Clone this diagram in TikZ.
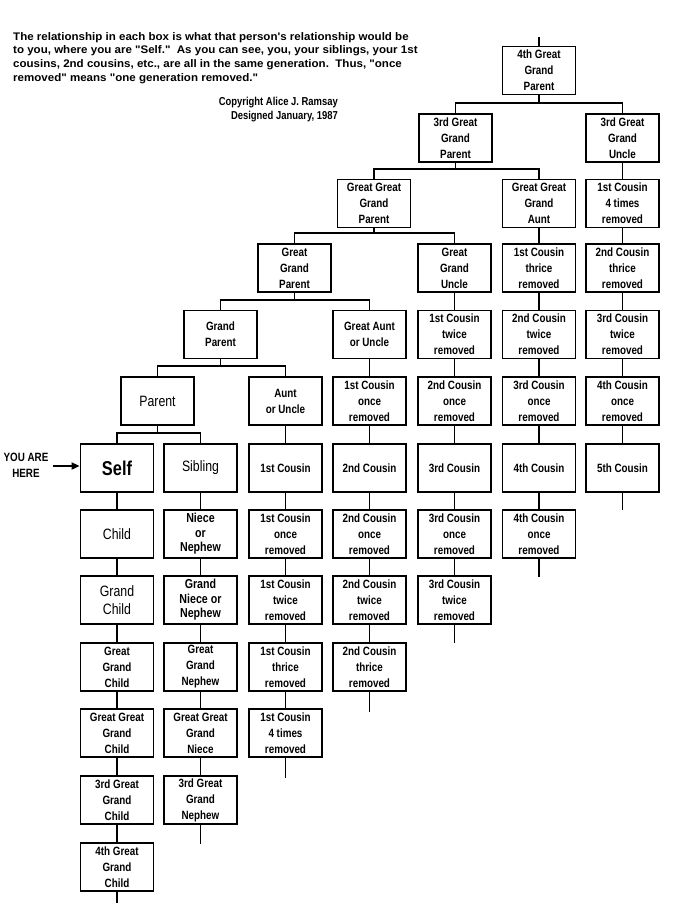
\documentclass[tikz,border=0pt]{standalone}
\usepackage{fontspec}
\setmainfont{Liberation Sans}
\newfontfamily\cond[FakeStretch=0.82]{Liberation Sans}
\newfontfamily\widef[FakeStretch=1.05]{Liberation Sans}
\usetikzlibrary{arrows.meta}
\newcommand\bxF{\cond\bfseries\fontsize{12}{16}\selectfont}
\newcommand\bigF{\cond\fontsize{15}{18}\selectfont}
\newcommand\midF{\cond\bfseries\fontsize{13}{14.5}\selectfont}
\newcommand\selfF{\cond\bfseries\fontsize{20}{22}\selectfont}
\newcommand\famfork[3]{%
  \draw[conn] (#2.north) -- ++(0,-10) -| (#3.north);
  \draw[conn] (#1.south) -- ([yshift=10pt]#1.south |- #2.north);}
\begin{document}
\begin{tikzpicture}[x=1pt,y=-1pt,
  box/.style={draw, line width=1.8pt, minimum width=73pt, minimum height=48pt,
    inner sep=0pt, align=center, font=\bxF},
  conn/.style={line width=1.8pt},
  para/.style={anchor=base west, inner sep=0pt, font=\widef\bfseries\fontsize{11}{13.8}\selectfont},
  copy/.style={anchor=base east, inner sep=0pt, font=\cond\bfseries\fontsize{11.5}{14}\selectfont}]
\useasboundingbox[fill=white] (0,0) rectangle (688,911);

% intro text
\node[para] (t1) at (13,40) {The relationship in each box is what that person's relationship would be};
\node[para] (t2) at (13,53.8) {to you, where you are "Self."\ \ As you can see, you, your siblings, your 1st};
\node[para] (t3) at (13,67.6) {cousins, 2nd cousins, etc., are all in the same generation.\ \ Thus, "once};
\node[para] (t4) at (13,81.4) {removed" means "one generation removed."};
\node[copy] (c1) at (338,105) {Copyright Alice J. Ramsay};
\node[copy] (c2) at (338,119) {Designed January, 1987};

% ancestors
\node[box] (p4) at (539,70.5) {4th Great\\Grand\\Parent};
\node[box] (p3) at (455.5,138) {3rd Great\\Grand\\Parent};
\node[box] (gggp) at (374,203.5) {Great Great\\Grand\\Parent};
\node[box] (ggp) at (294.5,268) {Great\\Grand\\Parent};
\node[box] (gp) at (220.5,334.5) {Grand\\Parent};
\node[box, font=\bigF] (parent) at (157.5,401) {Parent};

% column A
\node[box, font=\selfF] (self) at (117,468) {Self};
\node[box, font=\bigF] (child) at (117,534) {Child};
\node[box, font=\bigF] (gchild) at (117,600) {Grand\\Child};
\node[box] (ggchild) at (117,667) {Great\\Grand\\Child};
\node[box] (gggchild) at (117,733) {Great Great\\Grand\\Child};
\node[box] (g3child) at (117,800) {3rd Great\\Grand\\Child};
\node[box] (g4child) at (117,867) {4th Great\\Grand\\Child};

% column B
\node[box, font=\bigF] (sib) at (200.5,468) {Sibling};
\node[box, font=\midF] (niece) at (200.5,534) {Niece\\or\\Nephew};
\node[box, font=\midF] (gniece) at (200.5,600) {Grand\\Niece or\\Nephew};
\node[box] (ggneph) at (200.5,667) {Great\\Grand\\Nephew};
\node[box] (gggniece) at (200.5,733) {Great Great\\Grand\\Niece};
\node[box] (g3neph) at (200.5,800) {3rd Great\\Grand\\Nephew};

% column C
\node[box] (aunt) at (285.5,401) {Aunt\\or Uncle};
\node[box] (ca) at (285.5,468) {1st Cousin};
\node[box] (cb) at (285.5,534) {1st Cousin\\once\\removed};
\node[box] (cc) at (285.5,600) {1st Cousin\\twice\\removed};
\node[box] (cd) at (285.5,667) {1st Cousin\\thrice\\removed};
\node[box] (ce) at (285.5,733) {1st Cousin\\4 times\\removed};

% column D
\node[box] (gau) at (369.5,334.5) {Great Aunt\\or Uncle};
\node[box] (da) at (369.5,401) {1st Cousin\\once\\removed};
\node[box] (db) at (369.5,468) {2nd Cousin};
\node[box] (dc) at (369.5,534) {2nd Cousin\\once\\removed};
\node[box] (dd) at (369.5,600) {2nd Cousin\\twice\\removed};
\node[box] (de) at (369.5,667) {2nd Cousin\\thrice\\removed};

% column E
\node[box] (ggu) at (454.5,268) {Great\\Grand\\Uncle};
\node[box] (ea) at (454.5,334.5) {1st Cousin\\twice\\removed};
\node[box] (eb) at (454.5,401) {2nd Cousin\\once\\removed};
\node[box] (ec) at (454.5,468) {3rd Cousin};
\node[box] (ed) at (454.5,534) {3rd Cousin\\once\\removed};
\node[box] (ee) at (454.5,600) {3rd Cousin\\twice\\removed};

% column F
\node[box] (gggau) at (539,203.5) {Great Great\\Grand\\Aunt};
\node[box] (fa) at (539,268) {1st Cousin\\thrice\\removed};
\node[box] (fb) at (539,334.5) {2nd Cousin\\twice\\removed};
\node[box] (fc) at (539,401) {3rd Cousin\\once\\removed};
\node[box] (fd) at (539,468) {4th Cousin};
\node[box] (fe) at (539,534) {4th Cousin\\once\\removed};

% column G
\node[box] (g3u) at (622.5,138) {3rd Great\\Grand\\Uncle};
\node[box] (ga) at (622.5,203.5) {1st Cousin\\4 times\\removed};
\node[box] (gb) at (622.5,268) {2nd Cousin\\thrice\\removed};
\node[box] (gc) at (622.5,334.5) {3rd Cousin\\twice\\removed};
\node[box] (gd) at (622.5,401) {4th Cousin\\once\\removed};
\node[box] (ge) at (622.5,468) {5th Cousin};

% forks
\famfork{p4}{p3}{g3u}
\famfork{p3}{gggp}{gggau}
\famfork{gggp}{ggp}{ggu}
\famfork{ggp}{gp}{gau}
\famfork{gp}{parent}{aunt}
\famfork{parent}{self}{sib}

% chains
\foreach \a/\b in {self/child, child/gchild, gchild/ggchild, ggchild/gggchild, gggchild/g3child, g3child/g4child,
  sib/niece, niece/gniece, gniece/ggneph, ggneph/gggniece, gggniece/g3neph,
  aunt/ca, ca/cb, cb/cc, cc/cd, cd/ce,
  gau/da, da/db, db/dc, dc/dd, dd/de,
  ggu/ea, ea/eb, eb/ec, ec/ed, ed/ee,
  gggau/fa, fa/fb, fb/fc, fc/fd, fd/fe,
  g3u/ga, ga/gb, gb/gc, gc/gd, gd/ge}
  \draw[conn] (\a.south) -- (\b.north);

% stubs
\coordinate (topstub) at (539,37);
\coordinate (endA) at (117,903);
\coordinate (endB) at (200.5,844);
\coordinate (endC) at (285.5,778);
\coordinate (endD) at (369.5,712);
\coordinate (endE) at (454.5,643);
\coordinate (endF) at (539,577);
\coordinate (endG) at (622.5,510);
\draw[conn] (topstub) -- (p4.north);
\draw[conn] (g4child.south) -- (endA);
\draw[conn] (g3neph.south) -- (endB);
\draw[conn] (ce.south) -- (endC);
\draw[conn] (de.south) -- (endD);
\draw[conn] (ee.south) -- (endE);
\draw[conn] (fe.south) -- (endF);
\draw[conn] (ge.south) -- (endG);

% you are here
\node[align=center, inner sep=2pt, font=\cond\bfseries\fontsize{12}{16}\selectfont] (you) at (26,465.5) {YOU ARE\\HERE};
\coordinate (arrowtail) at (53,466);
\draw[line width=1.8pt, -{Triangle[length=8pt,width=7pt]}] (arrowtail) -- (self.west |- arrowtail);
\end{tikzpicture}
\end{document}
